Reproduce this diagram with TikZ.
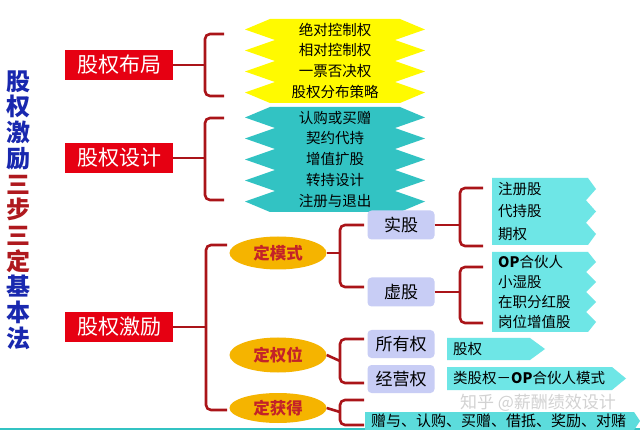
\documentclass[tikz,border=0pt]{standalone}
\usepackage{fontspec}
\setmainfont{Noto Sans CJK SC}
\usetikzlibrary{shapes.geometric}
\definecolor{boxred}{RGB}{230,0,18}
\definecolor{brcol}{RGB}{170,20,25}
\definecolor{ylw}{RGB}{255,250,0}
\definecolor{tealA}{RGB}{50,195,195}
\definecolor{tealB}{RGB}{110,230,230}
\definecolor{lavc}{RGB}{200,205,245}
\definecolor{ovalc}{RGB}{245,180,0}
\definecolor{ovaltxt}{RGB}{195,35,40}
\definecolor{tblue}{RGB}{25,40,175}
\definecolor{tred}{RGB}{175,25,30}
\begin{document}
\begin{tikzpicture}[x=1pt,y=-1pt,
  redbox/.style={fill=boxred, text=white, minimum width=108pt, minimum height=30pt, inner sep=0pt, font=\fontsize{21}{21}\selectfont},
  oval/.style={ellipse, fill=ovalc, text=ovaltxt, minimum width=97pt, minimum height=33pt, inner sep=0pt, font=\bfseries\fontsize{16.5}{16.5}\selectfont},
  lav/.style={rounded corners=4pt, fill=lavc, minimum width=67pt, minimum height=29pt, inner sep=0pt, font=\fontsize{17}{17}\selectfont},
  itm/.style={font=\fontsize{14.5}{14.5}\selectfont, inner sep=0pt, text=black},
  brc/.style={draw=brcol, line width=2.6pt, rounded corners=5pt}]
\useasboundingbox[fill=white] (0,0) rectangle (640,430);

% bottom teal line
\fill[tealA] (0,427.5) rectangle (640,430);

% title
\node[font=\bfseries\fontsize{24}{25.7}\selectfont, align=center, inner sep=0pt] (title) at (18,210)
 {\textcolor{tblue}{股}\\\textcolor{tblue}{权}\\\textcolor{tblue}{激}\\\textcolor{tblue}{励}\\
  \textcolor{tred}{三}\\\textcolor{tred}{步}\\\textcolor{tred}{三}\\\textcolor{tred}{定}\\
  \textcolor{tblue}{基}\\\textcolor{tblue}{本}\\\textcolor{tblue}{法}};

% red boxes
\node[redbox] (b1) at (119,65) {股权布局};
\node[redbox] (b2) at (119,158) {股权设计};
\node[redbox] (b3) at (119,327) {股权激励};

% yellow band
\fill[ylw] (270,19) -- (400,19) -- (425,29.5) -- (395,40) -- (425,50.5) -- (395,61) -- (425,71.5) -- (395,82) -- (425,92.5) -- (400,103)
  -- (270,103) -- (245,92.5) -- (275,82) -- (245,71.5) -- (275,61) -- (245,50.5) -- (275,40) -- (245,29.5) -- cycle;
\node[itm] (y1) at (335,29.5) {绝对控制权};
\node[itm] (y2) at (335,50.5) {相对控制权};
\node[itm] (y3) at (335,71.5) {一票否决权};
\node[itm] (y4) at (335,92.5) {股权分布策略};

% teal band
\fill[tealA] (270,107) -- (400,107) -- (425,117.5) -- (395,128) -- (425,138.5) -- (395,149) -- (425,159.5) -- (395,170) -- (425,180.5) -- (395,191) -- (425,201.5) -- (400,212)
  -- (270,212) -- (245,201.5) -- (275,191) -- (245,180.5) -- (275,170) -- (245,159.5) -- (275,149) -- (245,138.5) -- (275,128) -- (245,117.5) -- cycle;
\node[itm] (c1) at (335,117.5) {认购或买赠};
\node[itm] (c2) at (335,138.5) {契约代持};
\node[itm] (c3) at (335,159.5) {增值扩股};
\node[itm] (c4) at (335,180.5) {转持设计};
\node[itm] (c5) at (335,201.5) {注册与退出};

% braces from red boxes
\draw[brc] (b1.east) -- ++(32,0);
\draw[brc] (224,34) coordinate (b1t) -- (205,34) -- (205,96) -- (224,96) coordinate (b1b);
\draw[brc] (b2.east) -- ++(32,0);
\draw[brc] (224,118) coordinate (b2t) -- (205,118) -- (205,200) -- (224,200) coordinate (b2b);
\draw[brc] (b3.east) -- ++(33,0);
\draw[brc] (227,245) coordinate (b3t) -- (206,245) -- (206,410) -- (227,410) coordinate (b3b);

% ovals
\node[oval] (o1) at (278,253) {定模式};
\node[oval, minimum height=35pt] (o2) at (278,355) {定权位};
\node[oval, minimum height=30pt] (o3) at (278,408) {定获得};

% lavender boxes
\node[lav] (s1) at (401,225) {实股};
\node[lav] (s2) at (401,292) {虚股};
\node[lav, minimum height=28pt] (s3) at (401,344) {所有权};
\node[lav, minimum height=28pt] (s4) at (401,379) {经营权};

% braces from ovals
\draw[brc] (o1.east) -- (340,253);
\draw[brc] (364,225) coordinate (o1t) -- (340,225) -- (340,287) -- (364,287) coordinate (o1b);
\draw[brc] (o2.east) -- (340,361);
\draw[brc] (364,339) coordinate (o2t) -- (340,339) -- (340,383) -- (364,383) coordinate (o2b);
\draw[brc] (o3.east) -- (340,412);
\draw[brc] (364,400) coordinate (o3t) -- (340,400) -- (340,425) -- (364,425) coordinate (o3b);

% right teal boxes
\fill[tealB] (492,178) -- (588,178) -- (596,189) -- (586,200.3) -- (596,211.5) -- (586,222.7) -- (596,234) -- (588,245) -- (492,245) -- cycle;
\fill[tealB] (492,252) -- (588,252) -- (596,262) -- (586,272) -- (596,282) -- (586,292) -- (596,302) -- (586,312) -- (596,322) -- (588,332) -- (492,332) -- cycle;
\node[itm, anchor=west] (r1) at (498,189) {注册股};
\node[itm, anchor=west] (r2) at (498,211.5) {代持股};
\node[itm, anchor=west] (r3) at (498,234) {期权};
\node[itm, anchor=west] (v1) at (498,262) {\textbf{OP}合伙人};
\node[itm, anchor=west] (v2) at (498,282) {小湿股};
\node[itm, anchor=west] (v3) at (498,302) {在职分红股};
\node[itm, anchor=west] (v4) at (498,322) {岗位增值股};

% braces from lavender boxes
\draw[brc] (s1.east) -- (460,225);
\draw[brc] (483,188) coordinate (s1t) -- (460,188) -- (460,246) -- (483,246) coordinate (s1b);
\draw[brc] (s2.east) -- (460,292);
\draw[brc] (483,267) coordinate (s2t) -- (460,267) -- (460,323) -- (483,323) coordinate (s2b);

% arrows for ownership / management
\fill[tealB] (447,338) -- (530,338) -- (545,349) -- (530,360) -- (447,360) -- cycle;
\node[itm, anchor=west] (g1) at (453,349) {股权};
\fill[tealB] (447,367) -- (612,367) -- (626,378.5) -- (612,390) -- (447,390) -- cycle;
\node[itm, anchor=west] (g2) at (453,378.5) {类股权－\textbf{OP}合伙人模式};

% watermark
\node[text=gray!35, font=\fontsize{17}{17}\selectfont, inner sep=0pt] (wm) at (538,403) {知乎 @薪酬绩效设计};

% bottom band
\fill[tealB!70!tealA] (365,412) -- (634,412) -- (640,421) -- (634,430) -- (365,430) -- cycle;
\node[itm, anchor=west, font=\fontsize{15}{15}\selectfont] (z1) at (371,421) {赠与、认购、买赠、借抵、奖励、对赌};
\end{tikzpicture}
\end{document}
